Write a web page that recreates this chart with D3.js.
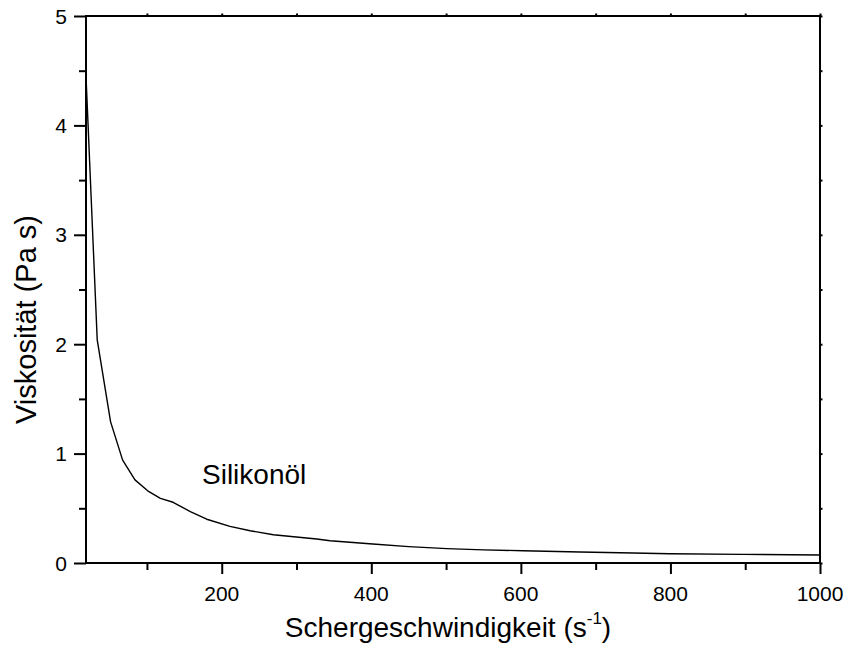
<!DOCTYPE html>
<html>
<head>
<meta charset="utf-8">
<script src="https://cdn.jsdelivr.net/npm/d3@7"></script>
<style>
  html, body { margin: 0; padding: 0; background: #fff; }
  svg { display: block; font-family: "Liberation Sans", Arial, sans-serif; }
</style>
</head>
<body>
<svg id="chart" width="846" height="659"></svg>
<script>
// Data (shear rate in 1/s, viscosity in Pa s)
const shearRate = [18.5, 33.5, 51.4, 67.5, 84, 101, 118, 135, 158, 180, 211, 238, 269, 327, 345, 402, 450, 501, 550, 603, 679, 750, 799, 897, 1000];
const viscosity = [4.45, 2.04, 1.29, 0.94, 0.76, 0.66, 0.59, 0.555, 0.47, 0.40, 0.335, 0.295, 0.258, 0.219, 0.203, 0.174, 0.15, 0.131, 0.12, 0.112, 0.10, 0.092, 0.085, 0.079, 0.073];

const xMajorTicks = [200, 400, 600, 800, 1000];
const xMinorTicks = [100, 300, 500, 700, 900];
const yMajorTicks = [0, 1, 2, 3, 4, 5];
const yMinorTicks = [0.5, 1.5, 2.5, 3.5, 4.5];
const xTitle = "Schergeschwindigkeit (s";
const xTitleSup = "-1";
const yTitle = "Viskosität (Pa s)";
const seriesLabel = "Silikonöl";

const svg = d3.select("#chart");
const mLeft = 86, mRight = 820, mTop = 16, mBottom = 563;

const x = d3.scaleLinear().domain([18.5, 1000]).range([mLeft, mRight]);
const y = d3.scaleLinear().domain([0, 5]).range([mBottom, mTop]);

const axisStroke = 2;

// bottom axis ticks
const gB = svg.append("g").attr("transform", `translate(0,${mBottom})`);
gB.call(d3.axisBottom(x).tickValues(xMajorTicks).tickSize(11).tickFormat(""));
gB.append("g").call(d3.axisBottom(x).tickValues(xMinorTicks).tickSize(7).tickFormat(""));
// left axis ticks
const gL = svg.append("g").attr("transform", `translate(${mLeft},0)`);
gL.call(d3.axisLeft(y).tickValues(yMajorTicks).tickSize(12).tickFormat(""));
gL.append("g").call(d3.axisLeft(y).tickValues(yMinorTicks).tickSize(7).tickFormat(""));
// top & right tiny marks
const gT = svg.append("g").attr("transform", `translate(0,${mTop})`);
gT.call(d3.axisTop(x).tickValues(xMajorTicks.concat(xMinorTicks)).tickSize(2.5).tickFormat(""));
const gR = svg.append("g").attr("transform", `translate(${mRight},0)`);
gR.call(d3.axisRight(y).tickValues(yMajorTicks.concat(yMinorTicks)).tickSize(2.5).tickFormat(""));

svg.selectAll(".domain").remove();
svg.selectAll(".tick line").attr("stroke", "#000").attr("stroke-width", axisStroke);

// frame
svg.append("rect")
  .attr("x", mLeft).attr("y", mTop)
  .attr("width", mRight - mLeft).attr("height", mBottom - mTop)
  .attr("fill", "none").attr("stroke", "#000").attr("stroke-width", axisStroke);

// tick labels
svg.append("g").selectAll("text").data(xMajorTicks).join("text")
  .attr("x", d => x(d)).attr("y", 601)
  .attr("text-anchor", "middle").attr("font-size", 21).attr("fill", "#000")
  .text(d => d);
svg.append("g").selectAll("text").data(yMajorTicks).join("text")
  .attr("x", 67).attr("y", d => y(d)).attr("dy", "0.36em")
  .attr("text-anchor", "end").attr("font-size", 21).attr("fill", "#000")
  .text(d => d);

// curve
const line = d3.line().x(d => x(d[0])).y(d => y(d[1]));
const pts = shearRate.map((s, i) => [s, viscosity[i]]);
svg.append("path").datum(pts)
  .attr("d", line).attr("fill", "none").attr("stroke", "#000").attr("stroke-width", 1.4)
  .attr("stroke-linejoin", "round");

// series label
svg.append("text")
  .attr("x", 202).attr("y", 484)
  .attr("font-size", 28).attr("fill", "#000")
  .text(seriesLabel);

// x title
const xt = svg.append("text")
  .attr("x", 448).attr("y", 637)
  .attr("text-anchor", "middle").attr("font-size", 28).attr("fill", "#000");
xt.append("tspan").text(xTitle);
xt.append("tspan").attr("font-size", 17).attr("dy", -13).text(xTitleSup);
xt.append("tspan").attr("dy", 13).text(")");

// y title
svg.append("text")
  .attr("transform", `translate(36,${319.5}) rotate(-90)`)
  .attr("text-anchor", "middle").attr("font-size", 29).attr("fill", "#000")
  .text(yTitle);
</script>
</body>
</html>
